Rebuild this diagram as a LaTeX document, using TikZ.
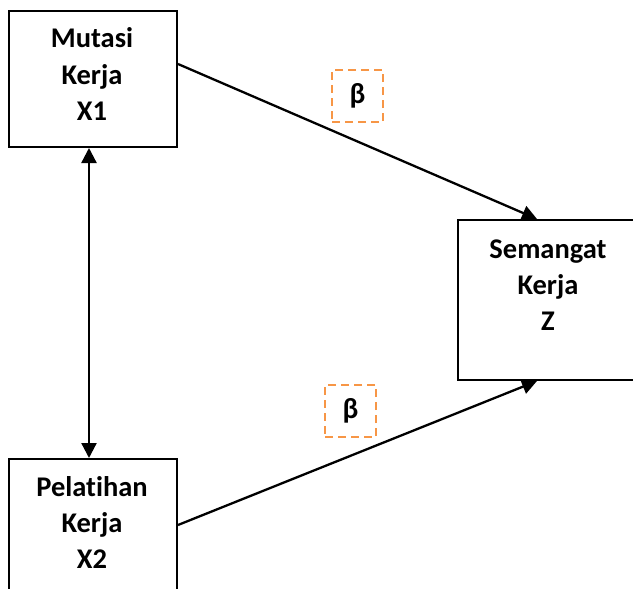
\documentclass[tikz,border=0pt]{standalone}
\usepackage{fontspec}
\setmainfont[Ligatures=NoCommon]{Carlito}
\usetikzlibrary{arrows.meta,calc}
\definecolor{betaorange}{HTML}{F79646}
\tikzset{
  varbox/.style={draw=black,line width=2pt,inner sep=0pt,anchor=north west},
  vartext/.style={font=\bfseries\fontsize{28.5}{36}\selectfont,align=center,anchor=base},
  betabox/.style={draw=betaorange,line width=2pt,dash pattern=on 8pt off 5pt,minimum width=51pt,minimum height=52pt,inner sep=0pt,font=\bfseries\fontsize{29}{32}\selectfont},
  conn/.style={line width=2.3pt,-{Triangle[length=15pt,width=15pt]}},
  biconn/.style={line width=2.3pt,{Triangle[length=15pt,width=15pt]}-{Triangle[length=15pt,width=15pt]}}
}
\begin{document}
\begin{tikzpicture}[x=1pt,y=-1pt]
\clip (0,0) rectangle (633,589);
% boxes
\node[varbox,minimum width=168pt,minimum height=136pt] (m) at (8,10) {};
\node[varbox,minimum width=182pt,minimum height=160pt] (s) at (457,219) {};
\node[varbox,minimum width=168pt,minimum height=160pt] (p) at (8,458) {};
% texts
\node[vartext] (mt1) at (92,48) {Mutasi};
\node[vartext] (mt2) at (92,84) {Kerja};
\node[vartext] (mt3) at (92,120) {X1};
\node[vartext] (st1) at (548,258) {Semangat};
\node[vartext] (st2) at (548,294) {Kerja};
\node[vartext] (st3) at (548,330) {Z};
\node[vartext] (pt1) at (92,496) {Pelat\kern0pt ihan};
\node[vartext] (pt2) at (92,532) {Kerja};
\node[vartext] (pt3) at (92,568) {X2};
% beta boxes
\node[betabox] (b1) at (357.5,96) {β};
\node[betabox] (b2) at (350.5,411) {β};
% connectors
\coordinate (mout) at ($(m.north east)+(0,54)$);
\coordinate (sin1) at ($(s.north west)+(80,0)$);
\coordinate (pout) at ($(p.north east)+(0,67)$);
\coordinate (sin2) at ($(s.south west)+(80,0)$);
\coordinate (mbot) at ($(m.south west)+(81,0)$);
\coordinate (ptop) at ($(p.north west)+(81,0)$);
\draw[conn] (mout) -- (sin1);
\draw[conn] (pout) -- (sin2);
\draw[biconn] (mbot) -- (ptop);
\end{tikzpicture}
\end{document}
